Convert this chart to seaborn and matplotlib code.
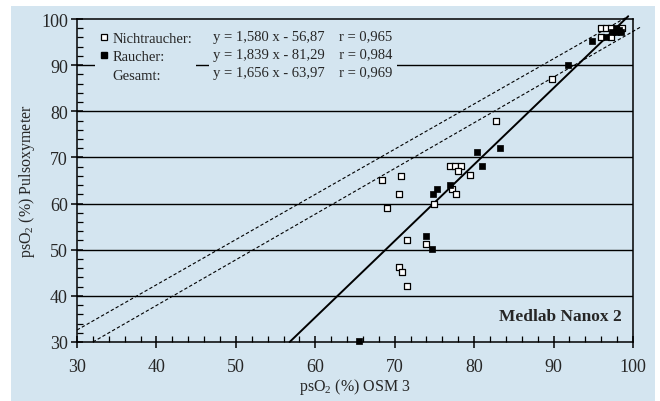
import matplotlib
matplotlib.use('Agg')
import matplotlib.pyplot as plt
from matplotlib.patches import Rectangle
from matplotlib.lines import Line2D
from matplotlib.ticker import MultipleLocator
import seaborn as sns
import pandas as pd

# Nichtraucher (open squares)
ns_x = [96.0, 96.6, 97.2, 98.6, 96.0, 97.2, 89.8, 82.7, 68.4, 70.8, 77.0, 77.6, 78.3,
        78.0, 79.5, 70.5, 77.2, 77.7, 69.0, 75.0, 71.5, 74.0, 70.5, 70.9, 71.6]
ns_y = [98.1, 98.1, 98.1, 98.1, 96.0, 96.0, 87.1, 78.0, 65.1, 66.0, 68.1, 68.1, 68.1,
        67.1, 66.1, 62.0, 63.1, 62.0, 59.1, 60.0, 52.1, 51.2, 46.2, 45.1, 42.1]

# Raucher (filled squares)
r_x = [97.9, 97.3, 97.9, 98.5, 96.6, 98.2, 94.9, 91.8, 80.3, 83.2, 81.0, 76.9, 75.3,
       74.8, 74.0, 74.7, 65.5]
r_y = [98.1, 97.1, 97.1, 97.1, 96.0, 97.6, 95.2, 90.1, 71.1, 72.0, 68.1, 64.0, 63.1,
       62.1, 53.0, 50.2, 30.2]

# regression line (Gesamt) and the two dashed band lines
fit_x = [56.77, 99.4]
fit_y = [30.0, 100.6]
upper_x = [30.0, 99.2]
upper_y = [32.6, 100.4]
lower_x = [32.0, 100.9]
lower_y = [30.0, 98.2]

labels = ['Nichtraucher:', 'Raucher:', 'Gesamt:']
equations = ['y = 1,580 x - 56,87', 'y = 1,839 x - 81,29', 'y = 1,656 x - 63,97']
r_values = ['r = 0,965', 'r = 0,984', 'r = 0,969']

bg = '#d4e5f0'

sns.set_style('ticks')
plt.rcParams['font.family'] = ['Liberation Serif', 'DejaVu Serif']
plt.rcParams['mathtext.fontset'] = 'custom'
plt.rcParams['mathtext.rm'] = 'Liberation Serif'

fig = plt.figure(figsize=(6.6, 4.02), dpi=100, facecolor='white')
fig.patches.append(Rectangle((11 / 660, 0), 644 / 660, 1 - 7 / 402, transform=fig.transFigure,
                             facecolor=bg, edgecolor='none', zorder=-10))
ax = fig.add_axes([77 / 660, 1 - 343 / 402, 556 / 660, 323 / 402])
ax.set_facecolor(bg)

df_ns = pd.DataFrame({'x': ns_x, 'y': ns_y})
df_r = pd.DataFrame({'x': r_x, 'y': r_y})

sns.scatterplot(data=df_ns, x='x', y='y', marker='s', s=20, facecolor='white',
                edgecolor='black', linewidth=0.9, ax=ax, zorder=4, clip_on=False)
sns.scatterplot(data=df_r, x='x', y='y', marker='s', s=24, color='black',
                edgecolor='black', linewidth=0.5, ax=ax, zorder=5, clip_on=False)

ax.plot(fit_x, fit_y, color='black', lw=1.4, zorder=3, clip_on=False)
ax.plot(upper_x, upper_y, color='black', lw=0.8, ls=(0, (3, 2)), zorder=3, clip_on=False)
ax.plot(lower_x, lower_y, color='black', lw=0.8, ls=(0, (3, 2)), zorder=3, clip_on=False)

ax.set_xlim(30, 100)
ax.set_ylim(30, 100)
ax.xaxis.set_major_locator(MultipleLocator(10))
ax.yaxis.set_major_locator(MultipleLocator(10))
ax.xaxis.set_minor_locator(MultipleLocator(2))
ax.yaxis.set_minor_locator(MultipleLocator(2))
ax.tick_params(which='major', direction='inout', length=9, width=1.1, labelsize=13, color='black')
ax.tick_params(axis='x', which='major', pad=7)
ax.tick_params(axis='y', which='major', pad=2)
ax.tick_params(which='minor', direction='in', length=4.5, width=0.9, color='black')
for s in ax.spines.values():
    s.set_color('black')
    s.set_linewidth(1.1)

for yv in range(40, 100, 10):
    ax.axhline(yv, color='black', lw=1.0, zorder=1)

ax.set_xlabel('psO$_\\mathrm{2}$ (%) OSM 3', fontsize=11.5, labelpad=1)
ax.set_ylabel('psO$_\\mathrm{2}$ (%) Pulsoxymeter', fontsize=11.5, labelpad=3)

handles = [
    Line2D([], [], marker='s', ls='none', markersize=4.3, markerfacecolor='white',
           markeredgecolor='black', markeredgewidth=0.9),
    Line2D([], [], marker='s', ls='none', markersize=4.5, markerfacecolor='black',
           markeredgecolor='black'),
    Line2D([], [], ls='none'),
]
leg = ax.legend(handles, labels, loc='upper left', bbox_to_anchor=(0.032, 0.975),
                borderaxespad=0, borderpad=0.3, handlelength=0.6, handletextpad=0.3,
                labelspacing=0.36, fontsize=10.5, frameon=True, facecolor=bg,
                edgecolor='none', framealpha=1, fancybox=False)
leg.set_zorder(6)

# one text per row so the rows line up with the legend entries
for i, (e, r) in enumerate(zip(equations, r_values)):
    ax.text(0.2446, 1 - (18 + 18 * i) / 323, e + '    ' + r, transform=ax.transAxes,
            fontsize=10.5, ha='left', va='center', zorder=6,
            bbox=dict(boxstyle='square,pad=0.3', facecolor=bg, edgecolor='none'))

ax.text(0.98, 0.0805, 'Medlab Nanox 2', transform=ax.transAxes, fontsize=12.5,
        fontweight='bold', ha='right', va='center', zorder=6)

fig.savefig('out.png', dpi=100, facecolor='white')
plt.close('all')
